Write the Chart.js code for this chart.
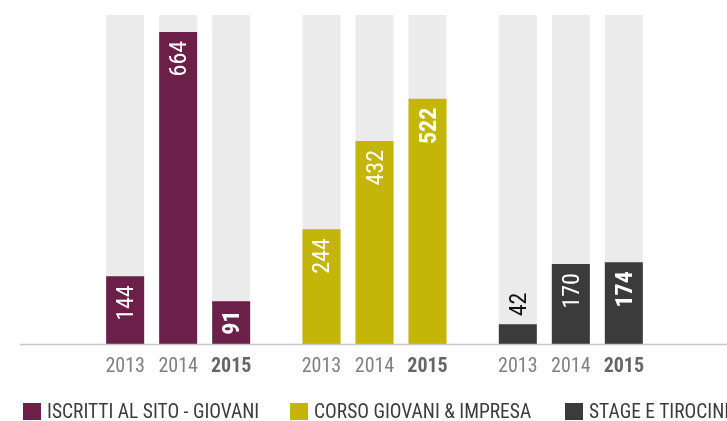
<!DOCTYPE html>
<html>
<head>
<meta charset="utf-8">
<script src="https://cdn.jsdelivr.net/npm/chart.js@4/dist/chart.umd.min.js"></script>
<style>
  html, body { margin: 0; padding: 0; background: #fff; overflow: hidden; }
  #wrap { position: relative; width: 727px; height: 421px; overflow: hidden; }
  #legend { position: absolute; left: 0; top: 0; width: 727px; height: 421px; pointer-events: none; }
  .item { position: absolute; top: 403px; white-space: nowrap; font-family: "Roboto Condensed", "Liberation Sans Narrow", "DejaVu Sans Condensed", sans-serif; font-size: 19.5px; color: #3c3c3c; line-height: 18px; }
  .box { display: inline-block; width: 18px; height: 17px; vertical-align: top; margin-right: 6px; }
</style>
</head>
<body>
<div id="wrap">
  <canvas id="chart" width="727" height="421"></canvas>
  <div id="legend"></div>
</div>
<script>
const FONT = '"Roboto Condensed", "Liberation Sans Narrow", "DejaVu Sans Condensed", sans-serif';

// data
const categories = ["ISCRITTI AL SITO - GIOVANI", "CORSO GIOVANI & IMPRESA", "STAGE E TIROCINI"];
const years = ["2013", "2014", "2015"];
const values2013 = [144, 244, 42];
const values2014 = [664, 432, 170];
const values2015 = [91, 522, 174];
const yMax = 700;
const catColors = ["#6c1f48", "#c4b608", "#3b3b3b"];
const greyColor = "#ebebeb";

const valuesByYear = [values2013, values2014, values2015];

// one stack per year: coloured bar drawn over a full-height grey bar
const datasets = [];
valuesByYear.forEach((vals, i) => {
  datasets.push({
    label: years[i],
    data: vals,
    backgroundColor: catColors,
    stack: "s" + years[i],
    order: 0,
    categoryPercentage: 0.81,
    barPercentage: 0.717
  });
});
years.forEach((y) => {
  datasets.push({
    label: "bg " + y,
    data: categories.map(() => yMax),
    backgroundColor: greyColor,
    stack: "s" + y,
    order: 1,
    categoryPercentage: 0.81,
    barPercentage: 0.717
  });
});

const labelsPlugin = {
  id: "labels",
  afterDatasetsDraw(chart) {
    const ctx = chart.ctx;
    const area = chart.chartArea;

    // baseline
    ctx.save();
    ctx.strokeStyle = "#c8c8c8";
    ctx.lineWidth = 1.5;
    ctx.beginPath();
    ctx.moveTo(20, area.bottom + 0.5);
    ctx.lineTo(chart.width, area.bottom + 0.5);
    ctx.stroke();
    ctx.restore();

    for (let d = 0; d < years.length; d++) {
      const meta = chart.getDatasetMeta(d);
      const bold = d === 2;
      meta.data.forEach((bar, i) => {
        // year tick under each bar
        ctx.save();
        ctx.font = (bold ? "bold " : "") + "20px " + FONT;
        ctx.fillStyle = bold ? "#666666" : "#808080";
        ctx.textAlign = "center";
        ctx.textBaseline = "alphabetic";
        ctx.fillText(years[d], bar.x, area.bottom + 28);
        ctx.restore();

        // value label, rotated
        const txt = String(valuesByYear[d][i]);
        ctx.save();
        ctx.font = (bold ? "bold " : "") + "24px " + FONT;
        const tw = ctx.measureText(txt).width;
        const h = bar.base - bar.y;
        ctx.translate(bar.x + 2, bar.y);
        ctx.rotate(-Math.PI / 2);
        ctx.textBaseline = "middle";
        if (h >= tw + 14) {
          ctx.fillStyle = "#ffffff";
          ctx.textAlign = "right";
          let off = 9;
          if (h < tw + 30) off = (h - tw) / 2;
          ctx.fillText(txt, -off, 0);
        } else {
          ctx.fillStyle = "#111111";
          ctx.textAlign = "left";
          ctx.fillText(txt, 8, 0);
        }
        ctx.restore();
      });
    }
  }
};

const ctx = document.getElementById("chart").getContext("2d");
const chart = new Chart(ctx, {
  type: "bar",
  data: {
    labels: categories,
    datasets: datasets
  },
  options: {
    responsive: false,
    animation: false,
    layout: {
      padding: { left: 80, right: 58, top: 15, bottom: 77 }
    },
    plugins: {
      legend: { display: false },
      tooltip: { enabled: false }
    },
    scales: {
      x: { display: false, stacked: true, offset: true },
      y: { display: false, stacked: false, min: 0, max: yMax }
    }
  },
  plugins: [labelsPlugin]
});

// legend (html)
const legendEl = document.getElementById("legend");
const legendX = [23, 290, 565];
categories.forEach((c, i) => {
  const item = document.createElement("div");
  item.className = "item";
  item.style.left = legendX[i] + "px";
  item.innerHTML = '<span class="box" style="background:' + catColors[i] + '"></span>' + c;
  legendEl.appendChild(item);
});
</script>
</body>
</html>
